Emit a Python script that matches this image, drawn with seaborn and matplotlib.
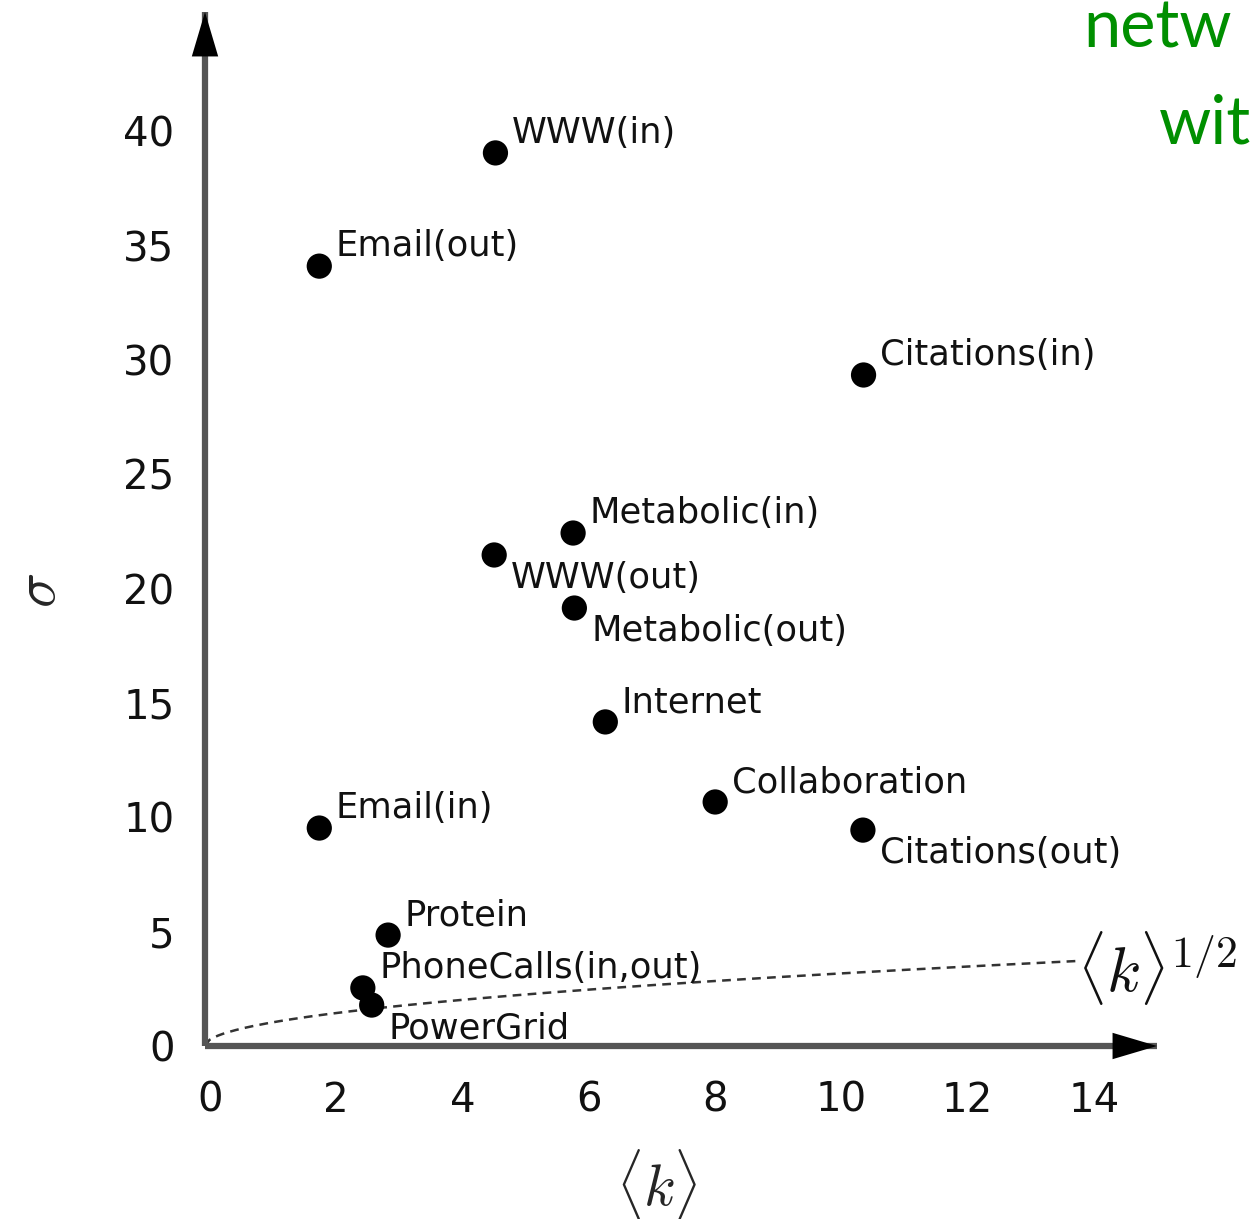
import numpy as np
import pandas as pd
import matplotlib
matplotlib.use("Agg")
import matplotlib.pyplot as plt
import matplotlib.transforms as mtransforms
import seaborn as sns

# ---------------- data ----------------
networks = ["WWW(in)", "Email(out)", "Citations(in)", "Metabolic(in)", "WWW(out)",
            "Metabolic(out)", "Internet", "Collaboration", "Citations(out)",
            "Email(in)", "Protein", "PhoneCalls(in,out)", "PowerGrid"]
mean_degree = [4.60, 1.81, 10.43, 5.83, 4.58, 5.85, 6.34, 8.08, 10.42, 1.81, 2.90, 2.50, 2.64]
sigma = [39.05, 34.10, 29.34, 22.43, 21.47, 19.15, 14.17, 10.67, 9.44, 9.53, 4.85, 2.54, 1.79]
label_below = [False, False, False, False, True, True, False, False, True, False, False, False, True]

x_ticks = [0, 2, 4, 6, 8, 10, 12, 14]
y_ticks = [0, 5, 10, 15, 20, 25, 30, 35, 40]
curve_k = np.linspace(0, 13.86, 200)   # <k>^{1/2} reference curve

df = pd.DataFrame({"k": mean_degree, "sigma": sigma, "name": networks})
curve = pd.DataFrame({"k": curve_k, "sqrt_k": np.sqrt(curve_k)})

# ---------------- style ----------------
sns.set_style("white")
plt.rcParams["font.family"] = ["DejaVu Sans"]
plt.rcParams["mathtext.fontset"] = "cm"

W, H = 1255, 1219
fig = plt.figure(figsize=(W / 100, H / 100), dpi=100)
ax = fig.add_axes([205 / W, 1 - 1046 / H, (1157 - 205) / W, (1046 - 12) / H])

sns.lineplot(data=curve, x="k", y="sqrt_k", ax=ax, color="#333333", lw=1.8,
             linestyle=(0, (3.5, 2.5)), zorder=2)
sns.scatterplot(data=df, x="k", y="sigma", ax=ax, s=330, color="black",
                edgecolor="none", zorder=3, legend=False)

for name, k, s, below in zip(networks, mean_degree, sigma, label_below):
    off = (12, -24) if below else (12, 7)
    ax.annotate(name, (k, s), xytext=off, textcoords="offset points",
                ha="left", va="baseline", fontsize=25.4, color="#111111")

ax.annotate(r"$\langle k\rangle^{1/2}$", (13.86, np.sqrt(13.86)), xytext=(-2, -5),
            textcoords="offset points", fontsize=45,
            ha="left", va="center", color="#111111")

ax.set_xlim(0, (1157 - 205) / 63.14)
ax.set_ylim(0, (1046 - 12) / 22.87)
ax.set_xticks(x_ticks)
ax.set_yticks(y_ticks)
ax.set_xticklabels([str(t) for t in x_ticks])
ax.set_yticklabels([str(t) for t in y_ticks])

for sp in ["top", "right"]:
    ax.spines[sp].set_visible(False)
for sp in ["left", "bottom"]:
    ax.spines[sp].set_color("#555555")
    ax.spines[sp].set_linewidth(4.5)
    ax.spines[sp].set_capstyle("butt")

ax.tick_params(axis="both", direction="in", length=15, width=1.2,
               color="#bbbbbb", labelsize=29, labelcolor="#111111")
ax.tick_params(axis="x", pad=25)
ax.tick_params(axis="y", pad=22)

shift = mtransforms.ScaledTranslation(5 / 100, 0, fig.dpi_scale_trans)
for lab in ax.get_xticklabels():
    lab.set_transform(lab.get_transform() + shift)

# arrow heads
ax.annotate("", xy=(1, 0), xytext=(0.9, 0), xycoords="axes fraction",
            arrowprops=dict(arrowstyle="-|>,head_length=32,head_width=9.5",
                            mutation_scale=1, lw=0, color="black",
                            shrinkA=0, shrinkB=0), annotation_clip=False)
ax.annotate("", xy=(0, 1), xytext=(0, 0.9), xycoords="axes fraction",
            arrowprops=dict(arrowstyle="-|>,head_length=32,head_width=9.5",
                            mutation_scale=1, lw=0, color="black",
                            shrinkA=0, shrinkB=0), annotation_clip=False)

ax.set_xlabel(r"$\langle k\rangle$", fontsize=42, va="center", ha="center")
ax.set_ylabel(r"$\sigma$", fontsize=42, va="center", ha="center")
ax.xaxis.set_label_coords((657 - 205) / 952, (1046 - 1184) / 1034)
ax.yaxis.set_label_coords((38 - 205) / 952, (1046 - 590) / 1034)

# partially visible slide text in green (top right corner)
fig.text(1083 / W, 1 - 48 / H, "netw", fontsize=48, family="Lato",
         color="#008f00", ha="left", va="baseline")
fig.text(1251 / W, 1 - 143 / H, "wit", fontsize=48, family="Lato",
         color="#008f00", ha="right", va="baseline")

fig.savefig("out.png", dpi=100)
